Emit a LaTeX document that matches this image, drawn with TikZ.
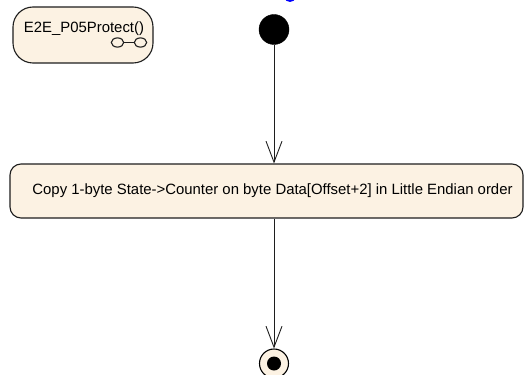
\documentclass[tikz,border=0pt]{standalone}
\usepackage{fontspec}
\setmainfont{Liberation Sans}
\usetikzlibrary{arrows.meta,calc}
\definecolor{actfill}{RGB}{252,242,227}
\definecolor{linec}{RGB}{30,30,30}
\tikzset{
  actbox/.style={draw=linec, line width=1.1pt, fill=actfill, inner sep=0pt},
  flow/.style={draw=linec, line width=0.9pt, -{Straight Barb[length=21pt,width=16pt,line width=0.9pt]}},
  txt/.style={font=\fontsize{14.9}{16}\selectfont, inner sep=0pt, text=black}
}
\begin{document}
\begin{tikzpicture}[x=1pt,y=-1pt]
\useasboundingbox (0,0) rectangle (526,374);
\fill[white] (0,0) rectangle (526,374);
% cropped blue element at top edge
\fill[blue] (290,-2.5) ellipse (5.5 and 4.5);
% function frame
\node[actbox, rounded corners=20pt, minimum width=140pt, minimum height=56pt] (fn) at (83,35) {};
\node[txt] (fnlabel) at (84,28.5) {E2E\_P05Protect()};
\draw[linec, line width=1.1pt] (117.5,42.5) ellipse (6.2 and 4.6);
\draw[linec, line width=1.1pt] (140.5,42.5) ellipse (6.2 and 4.6);
\draw[linec, line width=1.1pt] (123.7,42.5) -- (134.3,42.5);
% initial node
\node[circle, fill=black, draw=black, minimum size=30pt, inner sep=0pt] (init) at (274,29.5) {};
% action
\node[actbox, rounded corners=11pt, minimum width=513pt, minimum height=54pt] (act) at (266.5,191) {};
\node[txt] (actlabel) at (272.5,191) {Copy 1-byte State->Counter on byte Data[Offset+2] in Little Endian order};
% final node
\node[circle, fill=actfill, draw=black, line width=1.1pt, minimum size=29pt, inner sep=0pt] (final) at (274,363.5) {};
\node[circle, fill=black, minimum size=14pt, inner sep=0pt] (finaldot) at (274,363.5) {};
% flows
\draw[flow] (init.south) -- (init.south |- act.north);
\draw[flow] (act.south -| final.north) -- (final.north);
\end{tikzpicture}
\end{document}
